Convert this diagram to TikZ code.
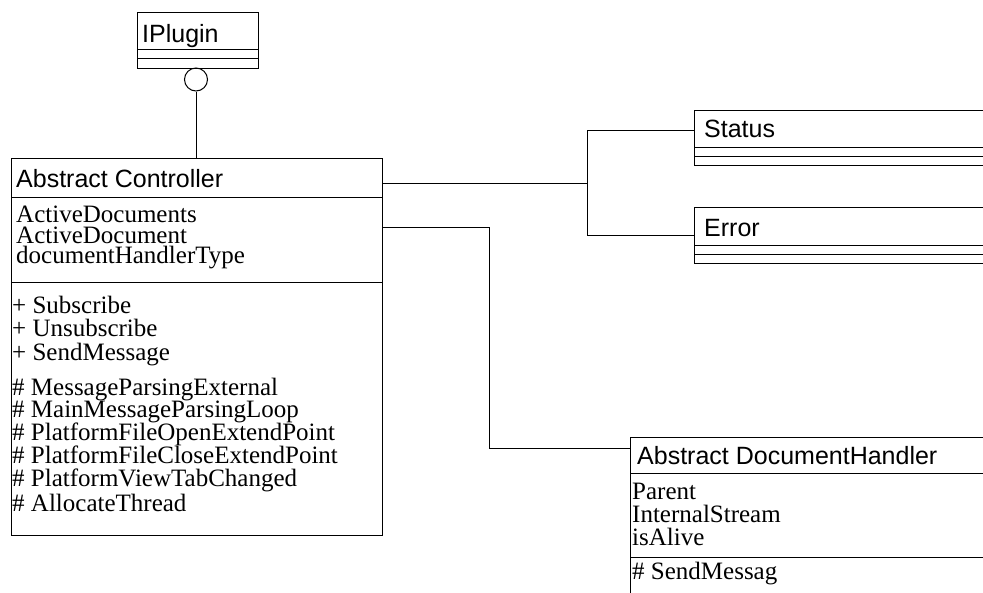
\documentclass[tikz,border=0pt]{standalone}
\usepackage{fontspec}
\setmainfont{Liberation Serif}
\newfontfamily\titlefont{Liberation Sans}
\begin{document}
\begin{tikzpicture}[x=1pt,y=-1pt,
  classbox/.style={draw=black,line width=1pt,inner sep=0pt,anchor=north west},
  wire/.style={draw=black,line width=1pt},
  title/.style={inner sep=0pt,anchor=base west,font=\titlefont\fontsize{25}{25}\selectfont},
  member/.style={inner sep=0pt,anchor=base west,font=\fontsize{25}{25}\selectfont}]
\useasboundingbox (0,0) rectangle (983,592);
\clip (0,0) rectangle (983,592);

% class boxes
\node[classbox,minimum width=121pt,minimum height=56pt] (iplugin) at (137,12) {};
\node[classbox,minimum width=371pt,minimum height=377pt] (ctrl) at (11,158) {};
\node[classbox,minimum width=320pt,minimum height=55pt] (status) at (694,110) {};
\node[classbox,minimum width=320pt,minimum height=56pt] (error) at (694,207) {};
\node[classbox,minimum width=370pt,minimum height=200pt] (doc) at (630,437) {};

% compartment separators
\draw[wire] (iplugin.west |- 0,49) -- (iplugin.east |- 0,49);
\draw[wire] (iplugin.west |- 0,58) -- (iplugin.east |- 0,58);
\draw[wire] (ctrl.west |- 0,197) -- (ctrl.east |- 0,197);
\draw[wire] (ctrl.west |- 0,282) -- (ctrl.east |- 0,282);
\draw[wire] (status.west |- 0,147) -- (status.east |- 0,147);
\draw[wire] (status.west |- 0,156) -- (status.east |- 0,156);
\draw[wire] (error.west |- 0,245) -- (error.east |- 0,245);
\draw[wire] (error.west |- 0,254) -- (error.east |- 0,254);
\draw[wire] (doc.west |- 0,473) -- (doc.east |- 0,473);
\draw[wire] (doc.west |- 0,557) -- (doc.east |- 0,557);

% interface lollipop
\node[draw=black,line width=1pt,circle,inner sep=0pt,minimum size=23pt] (lolly) at (196,79.5) {};
\draw[wire] (lolly.south) -- (lolly.south |- ctrl.north);

% associations
\coordinate (fork) at (587,183);
\draw[wire] (ctrl.east |- fork) -- (fork);
\draw[wire] (fork |- 0,130) -- (fork |- 0,235);
\draw[wire] (fork |- 0,130) -- (status.west |- 0,130);
\draw[wire] (fork |- 0,235) -- (error.west |- 0,235);
\coordinate (bend) at (489,227);
\draw[wire] (ctrl.east |- bend) -- (bend) -- (bend |- 0,448) -- (doc.west |- 0,448);

% titles
\node[title] (t-iplugin) at (142,42) {IPlugin};
\node[title] (t-ctrl) at (16,187) {Abstract Controller};
\node[title] (t-status) at (704,137) {Status};
\node[title] (t-error) at (704,236) {Error};
\node[title] (t-doc) at (637,464) {Abstract DocumentHandler};

% controller members
\node[member] (a1) at (16,222) {ActiveDocuments};
\node[member] (a2) at (16,243) {ActiveDocument};
\node[member] (a3) at (16,263) {documentHandlerType};
\node[member] (m1) at (12,313) {+ Subscribe};
\node[member] (m2) at (12,336) {+ Unsubscribe};
\node[member] (m3) at (12,360) {+ SendMessage};
\node[member] (m4) at (12,395) {\# MessageParsingExternal};
\node[member] (m5) at (12,417) {\# MainMessageParsingLoop};
\node[member] (m6) at (12,440) {\# PlatformFileOpenExtendPoint};
\node[member] (m7) at (12,463) {\# PlatformFileCloseExtendPoint};
\node[member] (m8) at (12,486) {\# PlatformViewTabChanged};
\node[member] (m9) at (12,511) {\# AllocateThread};

% document handler members
\node[member] (d1) at (632,499) {Parent};
\node[member] (d2) at (632,522) {InternalStream};
\node[member] (d3) at (632,545) {isAlive};
\node[member] (d4) at (632,579) {\# SendMessag};
\end{tikzpicture}
\end{document}
